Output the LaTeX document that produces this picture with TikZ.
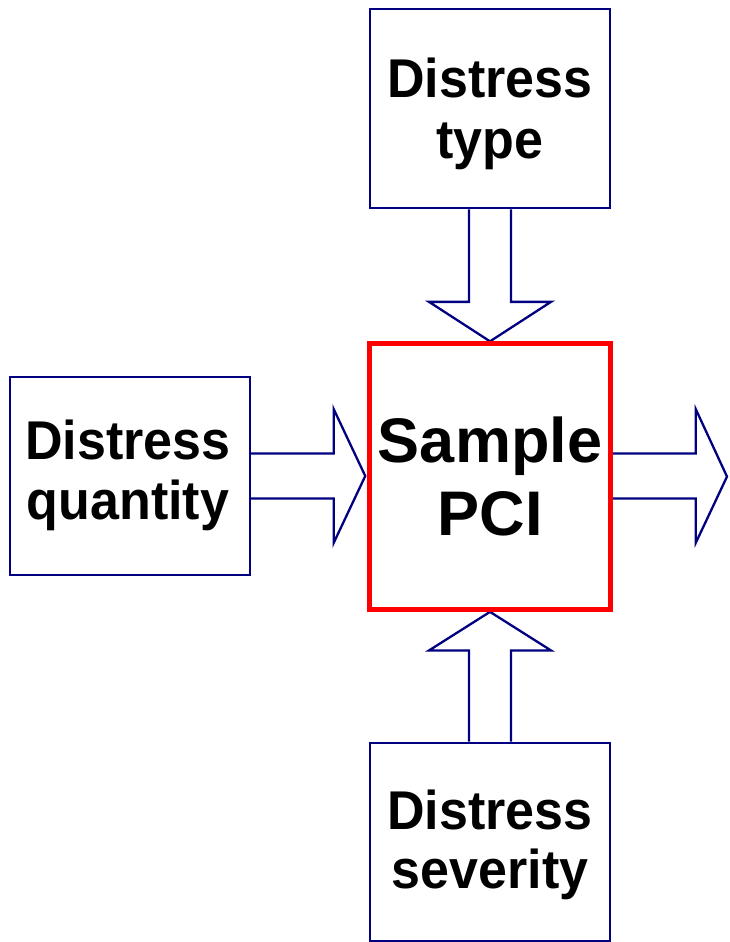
\documentclass[tikz,border=0pt]{standalone}
\usepackage{fontspec}
\setmainfont{Liberation Sans}
\usetikzlibrary{calc,backgrounds}
\definecolor{navy}{RGB}{0,0,128}
\definecolor{pcired}{RGB}{255,0,0}
\newcommand{\tallish}[1]{\scalebox{1}[1.05]{#1}}
\tikzset{
  inbox/.style={draw=navy, line width=2.3pt, rectangle, inner sep=0pt, minimum width=240pt, minimum height=199pt},
  pcibox/.style={draw=pcired, line width=4.5pt, rectangle, inner sep=0pt, minimum width=241pt, minimum height=266pt},
  lbl/.style={anchor=base, inner sep=0pt, font=\fontsize{52}{61}\selectfont\bfseries},
  biglbl/.style={anchor=base, inner sep=0pt, font=\fontsize{63}{73}\selectfont\bfseries},
  blockarrow/.style={draw=navy, fill=white, line width=2.3pt, line join=miter}
}
\begin{document}
\begin{tikzpicture}[x=1pt,y=-1pt]
\useasboundingbox (0,0) rectangle (729,942);
\node[inbox] (top) at (490,108.8) {};
\node[inbox, minimum height=198.3pt] (left) at (130,476) {};
\node[pcibox] (mid) at (490,476.6) {};
\node[inbox, minimum height=198pt] (bot) at (490,841.7) {};
\coordinate (rtip) at (727,476.6);

\node[lbl] (t1) at (490,97) {\tallish{Distress}};
\node[lbl] (t2) at (490,158) {\tallish{type}};
\node[lbl] (l1) at (128,459) {\tallish{Distress}};
\node[lbl] (l2) at (128,519) {\tallish{quantity}};
\node[biglbl] (m1) at (490,462) {Sample};
\node[biglbl] (m2) at (490,535) {PCI};
\node[lbl] (b1) at (490,829) {\tallish{Distress}};
\node[lbl] (b2) at (490,888) {\tallish{severity}};

\begin{pgfonlayer}{background}
\fill[white] (0,0) rectangle (729,942);
% top arrow
\draw[blockarrow] ($(top.south)+(-21,0)$) -- ($(mid.north)+(-21,-39.5)$) -- ($(mid.north)+(-61,-39.5)$)
  -- (mid.north) -- ($(mid.north)+(61,-39.5)$) -- ($(mid.north)+(21,-39.5)$) -- ($(top.south)+(21,0)$);
% bottom arrow
\draw[blockarrow] ($(bot.north)+(-21,0)$) -- ($(mid.south)+(-21,38.6)$) -- ($(mid.south)+(-61,38.6)$)
  -- (mid.south) -- ($(mid.south)+(61,38.6)$) -- ($(mid.south)+(21,38.6)$) -- ($(bot.north)+(21,0)$);
% left arrow
\draw[blockarrow] ($(left.east)+(0,-22.5)$) -- ($(mid.west)+(-33.6,-23.1)$) -- ($(mid.west)+(-33.6,-67.6)$)
  -- ($(mid.west)+(-2,-0.6)$) -- ($(mid.west)+(-33.6,66.4)$) -- ($(mid.west)+(-33.6,21.9)$) -- ($(left.east)+(0,22.5)$);
% right arrow
\draw[blockarrow] ($(mid.east)+(0,-23.1)$) -- ($(rtip)+(-31.3,-23.1)$) -- ($(rtip)+(-31.3,-67.6)$)
  -- (rtip) -- ($(rtip)+(-31.3,66.4)$) -- ($(rtip)+(-31.3,21.9)$) -- ($(mid.east)+(0,21.9)$);
\end{pgfonlayer}
\end{tikzpicture}
\end{document}
